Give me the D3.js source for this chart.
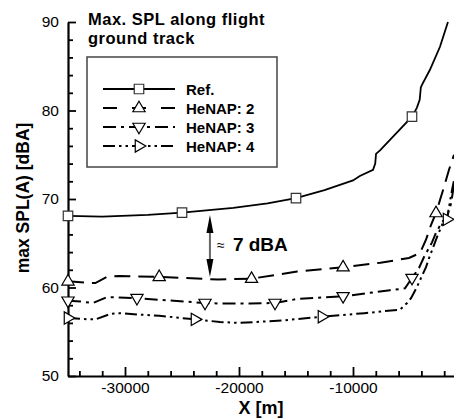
<!DOCTYPE html>
<html><head><meta charset="utf-8">
<script src="https://cdn.jsdelivr.net/npm/d3@7"></script>
<style>
html,body{margin:0;padding:0;background:#fff;}
svg{display:block;font-family:"Liberation Sans",Arial,Helvetica,sans-serif;}
</style></head>
<body>
<svg id="chart" width="454" height="420"></svg>
<script>
// ---- data ----
const seriesNames = ["Ref.", "HeNAP: 2", "HeNAP: 3", "HeNAP: 4"];

const refX = [-35000, -32000, -28000, -25000, -20500, -17500, -15000, -12500, -10000, -9400, -8240, -8050, -7980, -7630, -6300, -4825, -4400, -4150, -4050, -3950, -3250, -2370, -1670];
const refY = [68.1, 68.0, 68.2, 68.45, 69.0, 69.5, 70.1, 71.0, 72.1, 72.6, 73.3, 74.0, 75.1, 75.5, 77.3, 79.3, 80.3, 81.2, 82.6, 82.9, 84.6, 87.2, 90.0];
const refMarkX = [-35000, -25000, -15000, -4825];
const refMarkY = [68.1, 68.45, 70.1, 79.3];

const h2X = [-35000, -33100, -32600, -31600, -30500, -27000, -21800, -18900, -14900, -10870, -7600, -5088, -4123, -3596, -3160, -2719, -2017, -1579, -1140];
const h2Y = [60.7, 60.5, 60.5, 61.2, 61.3, 61.2, 60.9, 61.0, 61.8, 62.3, 62.8, 63.33, 63.9, 65.4, 67.06, 68.42, 71.36, 73.3, 75.0];
const h2MarkX = [-35000, -27000, -18900, -10870, -2719];
const h2MarkY = [60.7, 61.2, 61.0, 62.3, 68.42];

const h3X = [-35000, -33800, -32800, -31600, -30900, -28950, -26930, -22980, -21800, -19000, -16840, -14910, -10870, -6750, -5440, -4825, -4210, -3770, -3070, -2720, -2190, -1750, -1400, -1140];
const h3Y = [58.5, 58.4, 58.25, 58.9, 58.9, 58.8, 58.6, 58.25, 58.2, 58.2, 58.25, 58.7, 59.0, 59.7, 59.9, 61.07, 62.2, 63.45, 65.1, 66.2, 67.4, 67.97, 69.5, 71.6];
const h3MarkX = [-35000, -28950, -22980, -16840, -10870, -4825];
const h3MarkY = [58.5, 58.8, 58.25, 58.25, 59.0, 61.07];

const h4X = [-35000, -33100, -32600, -31300, -30600, -27000, -23860, -21670, -19910, -16000, -12720, -9000, -5880, -5260, -4910, -4386, -4035, -3596, -3333, -2632, -2017, -1750, -1316, -1140];
const h4Y = [56.55, 56.4, 56.4, 57.0, 57.1, 56.8, 56.4, 56.1, 56.0, 56.3, 56.7, 57.1, 57.5, 58.25, 58.8, 60.06, 61.07, 62.3, 63.3, 65.7, 67.6, 67.8, 71.0, 72.1];
const h4MarkX = [-35000, -23860, -12720, -1750];
const h4MarkY = [56.55, 56.4, 56.7, 67.7];

const xMajorTicks = [-30000, -20000, -10000];
const yMajorTicks = [50, 60, 70, 80, 90];
const xDomain = [-35000, -1140];
const yDomain = [50, 90];

const arrowX = -22550;
const arrowY = [68.2, 61.2];

const titleLines = ["Max. SPL along flight", "ground track"];
const xLabel = "X [m]";
const yLabel = "max SPL(A) [dBA]";
const noteApprox = "≈";
const noteText = "7 dBA";

// ---- layout ----
const svg = d3.select("#chart");
const L = 68, R = 454, T = 22, B = 376;
const x = d3.scaleLinear().domain(xDomain).range([L, R]);
const y = d3.scaleLinear().domain(yDomain).range([B, T]);

svg.append("rect").attr("width", 454).attr("height", 420).attr("fill", "#fff");

svg.append("defs").append("clipPath").attr("id", "clip")
  .append("rect").attr("x", L - 10).attr("y", T - 1).attr("width", R - L + 20).attr("height", B - T + 2);

// minor ticks
const xMinor = d3.range(-34000, -1000, 2000).filter(v => !xMajorTicks.includes(v));
const yMinor = d3.range(52, 90, 2).filter(v => !yMajorTicks.includes(v));

const gx = svg.append("g").attr("transform", `translate(0,${B})`)
  .call(d3.axisBottom(x).tickValues(xMajorTicks).tickSizeInner(-9).tickSizeOuter(0).tickPadding(6).tickFormat(d => String(d)));
svg.append("g").attr("transform", `translate(0,${B})`)
  .call(d3.axisBottom(x).tickValues(xMinor).tickSizeInner(-5).tickSizeOuter(0).tickFormat(""))
  .select(".domain").remove();

const gy = svg.append("g").attr("transform", `translate(${L},0)`)
  .call(d3.axisLeft(y).tickValues(yMajorTicks).tickSizeInner(-8).tickSizeOuter(0).tickPadding(9).tickFormat(d => String(d)));
svg.append("g").attr("transform", `translate(${L},0)`)
  .call(d3.axisLeft(y).tickValues(yMinor).tickSizeInner(-5).tickSizeOuter(0).tickFormat(""))
  .select(".domain").remove();

svg.selectAll(".domain").attr("stroke", "#000").attr("stroke-width", 2.2);
svg.selectAll(".tick line").attr("stroke", "#000").attr("stroke-width", 1.8);
svg.selectAll(".tick text").attr("fill", "#000").style("font-size", "15.5px")
  .style("font-family", "'Liberation Sans',Arial,Helvetica,sans-serif");
gx.selectAll(".tick text").attr("dy", "0.72em");

// axis labels
svg.append("text").attr("x", (L + R) / 2).attr("y", 414).attr("text-anchor", "middle")
  .attr("font-weight", "bold").attr("font-size", 18).text(xLabel);
svg.append("text").attr("transform", `translate(29,${(T + B) / 2 - 1}) rotate(-90)`).attr("text-anchor", "middle")
  .attr("font-weight", "bold").attr("font-size", 17.5).text(yLabel);

// title (two lines)
titleLines.forEach((t, i) => {
  svg.append("text").attr("x", 88).attr("y", 25 + i * 19).attr("font-weight", "bold")
    .attr("font-size", 16.5).attr("letter-spacing", 0.5).text(t);
});

// series
const styles = [
  { dash: null, marker: "square" },
  { dash: "16,8", marker: "up" },
  { dash: "13,5,3,5", marker: "down" },
  { dash: "12,4,2.5,4,2.5,4", marker: "right" }
];
const series = [
  { xs: refX, ys: refY, mx: refMarkX, my: refMarkY },
  { xs: h2X, ys: h2Y, mx: h2MarkX, my: h2MarkY },
  { xs: h3X, ys: h3Y, mx: h3MarkX, my: h3MarkY },
  { xs: h4X, ys: h4Y, mx: h4MarkX, my: h4MarkY }
];

const line = d3.line().x(d => x(d[0])).y(d => y(d[1]));
const plot = svg.append("g").attr("clip-path", "url(#clip)");

function markerPath(type, s) {
  const h = s / 2;
  if (type === "square") return `M${-h},${-h}H${h}V${h}H${-h}Z`;
  const a = s * 0.62;
  if (type === "up") return `M0,${-a}L${a * 0.9},${a * 0.55}L${-a * 0.9},${a * 0.55}Z`;
  if (type === "down") return `M0,${a}L${a * 0.9},${-a * 0.55}L${-a * 0.9},${-a * 0.55}Z`;
  if (type === "right") return `M${a},0L${-a * 0.55},${a * 0.9}L${-a * 0.55},${-a * 0.9}Z`;
}

series.forEach((s, i) => {
  const pts = s.xs.map((v, k) => [v, s.ys[k]]);
  plot.append("path").datum(pts).attr("d", line).attr("fill", "none")
    .attr("stroke", "#000").attr("stroke-width", i === 0 ? 1.8 : 2)
    .attr("stroke-dasharray", styles[i].dash);
});
series.forEach((s, i) => {
  const mpts = s.mx.map((v, k) => [v, s.my[k]]);
  plot.selectAll(null).data(mpts).enter().append("path")
    .attr("transform", d => `translate(${x(d[0])},${y(d[1])})`)
    .attr("d", markerPath(styles[i].marker, i === 0 ? 9.5 : 11))
    .attr("fill", "#fff").attr("stroke", i === 0 ? "#333" : "#000").attr("stroke-width", 1.2);
});

// arrow annotation
const ax = x(arrowX), ay1 = y(arrowY[0]), ay2 = y(arrowY[1]);
svg.append("line").attr("x1", ax).attr("x2", ax).attr("y1", ay1 + 10).attr("y2", ay2 - 10)
  .attr("stroke", "#666").attr("stroke-width", 2);
svg.append("path").attr("d", `M${ax},${ay1}L${ax + 3.5},${ay1 + 18}L${ax - 3.5},${ay1 + 18}Z`).attr("fill", "#000");
svg.append("path").attr("d", `M${ax},${ay2}L${ax + 3.5},${ay2 - 18}L${ax - 3.5},${ay2 - 18}Z`).attr("fill", "#000");
svg.append("text").attr("x", ax + 7).attr("y", 250).attr("font-size", 14).text(noteApprox);
svg.append("text").attr("x", ax + 23).attr("y", 251).attr("font-weight", "bold").attr("font-size", 19).text(noteText);

// legend
const lg = svg.append("g");
lg.append("rect").attr("x", 87).attr("y", 57).attr("width", 190).attr("height", 110)
  .attr("fill", "#fff").attr("stroke", "#444").attr("stroke-width", 1.5);
seriesNames.forEach((name, i) => {
  const ly = 89 + i * 19;
  lg.append("line").attr("x1", 103).attr("x2", 175).attr("y1", ly).attr("y2", ly)
    .attr("stroke", "#000").attr("stroke-width", i === 0 ? 1.8 : 2)
    .attr("stroke-dasharray", i === 0 ? null : (i === 1 ? "14,15" : styles[i].dash));
  lg.append("path").attr("transform", `translate(139,${ly})`)
    .attr("d", markerPath(styles[i].marker, i === 0 ? 9.5 : 11))
    .attr("fill", "#fff").attr("stroke", i === 0 ? "#333" : "#000").attr("stroke-width", 1.2);
  lg.append("text").attr("x", 186).attr("y", ly + 5.5).attr("font-weight", "bold")
    .attr("font-size", 15).text(name);
});
</script>
</body></html>
